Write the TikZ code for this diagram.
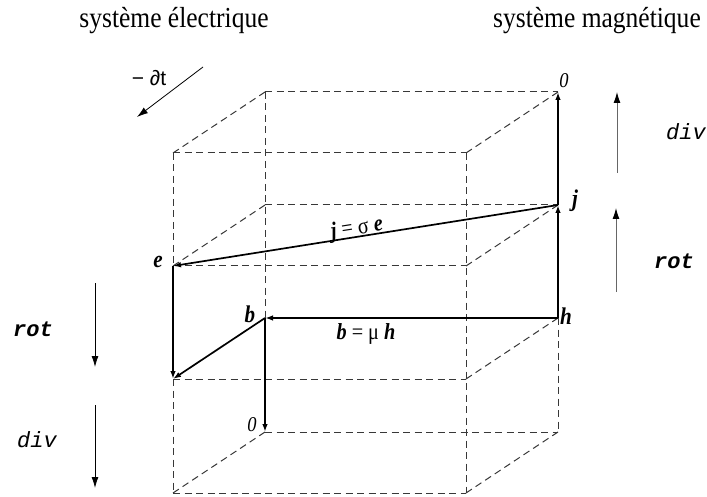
\documentclass[tikz,border=0pt]{standalone}
\usepackage{fontspec}
\setmainfont{Liberation Serif}[FakeStretch=0.88]
\setsansfont{Liberation Sans}
\setmonofont{Liberation Mono}
\usetikzlibrary{arrows.meta}
\begin{document}
\begin{tikzpicture}[x=1pt,y=-1pt,
  edge/.style={draw=black!78,line width=1pt,dash pattern=on 7pt off 4.5pt},
  arr/.style={draw=black,line width=1.7pt,-{Latex[length=8pt,width=5.5pt]}},
  side/.style={draw=black,line width=0.8pt,-{Latex[length=11pt,width=7pt]}},
  sidegray/.style={draw=black!60,line width=0.9pt,-{Latex[length=11pt,width=7pt,color=black]}},
  vlab/.style={font=\fontsize{24}{28}\selectfont\bfseries\itshape,inner sep=0pt},
  zlab/.style={font=\fontsize{21}{25}\selectfont\itshape,inner sep=0pt},
  oplab/.style={inner sep=0pt},
  title/.style={font=\fontsize{29}{33}\selectfont,inner sep=0pt,anchor=base},
  form/.style={font=\fontsize{23}{27}\selectfont,inner sep=0pt}]
\useasboundingbox (0,0) rectangle (707,497);
% cube vertices
\foreach \i/\fy/\by in {0/153/92,1/266/205,2/379/318,3/493/432}{
  \coordinate (F\i L) at (173,\fy);
  \coordinate (F\i R) at (466,\fy);
  \coordinate (B\i L) at (265,\by);
  \coordinate (B\i R) at (558,\by);
}
% dashed edges
\foreach \i in {0,1,3}{
  \path[edge] (F\i L) -- (F\i R);
  \path[edge] (B\i L) -- (B\i R);
  \path[edge] (F\i L) -- (B\i L);
  \path[edge] (F\i R) -- (B\i R);
}
\path[edge] (F2L) -- (F2R);
\path[edge] (F2R) -- (B2R);
\path[edge] (F0L) -- (F1L);
\path[edge] (F2L) -- (F3L);
\path[edge] (F0R) -- (F3R);
\path[edge] (B0L) -- (B2L);
\path[edge] (B2R) -- (B3R);
% solid arrows
\path[arr] (B1R) -- (F1L);
\path[arr] (F1L) -- (F2L);
\path[arr] (B2L) -- (F2L);
\path[arr] (B2R) -- (B2L);
\path[arr] (B2L) -- (B3L);
\path[arr] (B2R) -- (B1R);
\path[arr] (B1R) -- (B0R);
% vertex labels
\node[vlab] (le) at (158,262) {e};
\node[vlab] (lb) at (250,314) {b};
\node[vlab] (lh) at (566,316) {h};
\node[vlab] (lj) at (575,201) {j};
\node[zlab] (z1) at (564,81) {0};
\node[zlab] (z2) at (252,425) {0};
% formulas
\node[form,rotate=8.9] (f1) at (357,229) {\textbf{\textit{j}} = σ \textbf{\textit{e}}};
\node[form] (f2) at (366,334) {\textbf{\textit{b}} = μ \textbf{\textit{h}}};
% titles
\node[title] (t1) at (174,28) {système électrique};
\node[title] (t2) at (597,28) {système magnétique};
% time arrow
\coordinate (ta) at (203,67);
\coordinate (tb) at (137,117);
\path[side,line width=0.8pt] (ta) -- (tb);
\node[font=\fontsize{21}{25}\selectfont\sffamily,inner sep=0pt] (dt) at (149,78) {− ∂t};
% left side operators
\coordinate (l1a) at (95,283); \coordinate (l1b) at (95,367);
\coordinate (l2a) at (95,405); \coordinate (l2b) at (95,488);
\path[side] (l1a) -- (l1b);
\path[side] (l2a) -- (l2b);
\node[oplab,font=\fontsize{22}{26}\selectfont\ttfamily\bfseries\itshape] (rotL) at (33,329) {rot};
\node[oplab,font=\fontsize{22}{26}\selectfont\ttfamily\itshape] (divL) at (37,440) {div};
% right side operators
\coordinate (r1a) at (617,173); \coordinate (r1b) at (617,92);
\coordinate (r2a) at (616,292); \coordinate (r2b) at (616,208);
\path[sidegray] (r1a) -- (r1b);
\path[sidegray] (r2a) -- (r2b);
\node[oplab,font=\fontsize{22}{26}\selectfont\ttfamily\itshape] (divR) at (686,132) {div};
\node[oplab,font=\fontsize{22}{26}\selectfont\ttfamily\bfseries\itshape] (rotR) at (674,261) {rot};
\end{tikzpicture}
\end{document}
